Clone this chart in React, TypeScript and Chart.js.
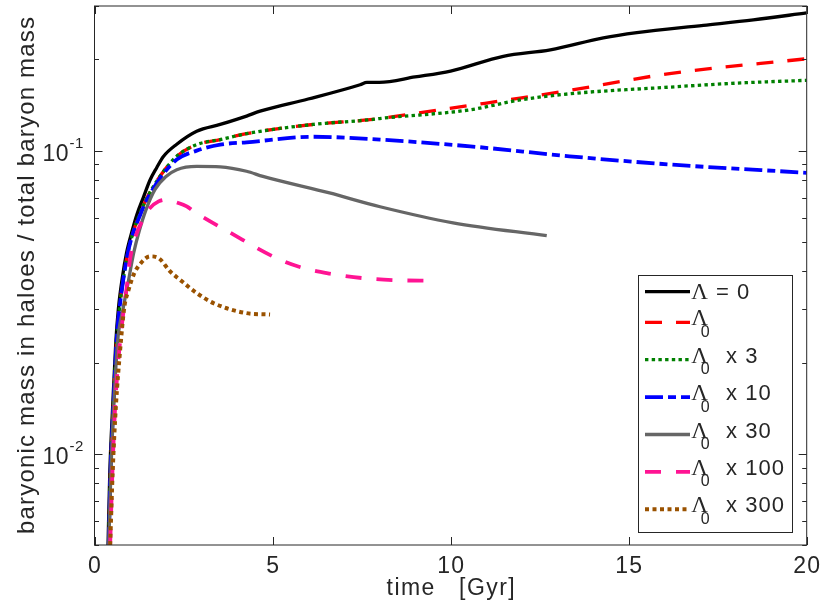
import React, { useEffect, useRef } from "react";
import { Chart, registerables } from "chart.js";

Chart.register(...registerables);

// time [Gyr] and baryonic mass fraction, one pair of arrays per curve
const tLambdaZero = [0.38, 0.43, 0.51, 0.6, 0.67, 0.78, 0.9, 1.05, 1.2, 1.37, 1.56, 1.75, 1.93, 2.31, 2.87, 3.53, 4.27, 4.65, 6.0, 7.46, 7.65, 8.0, 9.0, 10.0, 11.48, 12.8, 14.29, 15.23, 17.1, 18.5, 20];
const vLambdaZero = [0.005, 0.0087, 0.0143, 0.0235, 0.03, 0.038, 0.046, 0.054, 0.062, 0.07, 0.08, 0.088, 0.0955, 0.105, 0.1159, 0.122, 0.13, 0.135, 0.148, 0.165, 0.168, 0.168, 0.175, 0.183, 0.2047, 0.215, 0.2355, 0.245, 0.259, 0.27, 0.2847];

const tLambda0 = [0.4, 0.45, 0.53, 0.62, 0.7, 0.8, 0.92, 1.07, 1.25, 1.45, 1.84, 2.31, 2.87, 3.53, 4.27, 6.14, 7.74, 8.0, 10.55, 11.95, 13.34, 16.15, 20];
const vLambda0 = [0.005, 0.0087, 0.0143, 0.0235, 0.03, 0.037, 0.045, 0.053, 0.061, 0.069, 0.0823, 0.0958, 0.1047, 0.1087, 0.1138, 0.122, 0.1265, 0.1276, 0.141, 0.149, 0.158, 0.1795, 0.201];

const tLambda3 = [0.4, 0.45, 0.53, 0.62, 0.7, 0.8, 0.92, 1.07, 1.25, 1.45, 1.84, 2.31, 2.87, 3.53, 4.27, 6.14, 7.74, 8.0, 10.55, 11.95, 13.34, 16.15, 18.04, 20];
const vLambda3 = [0.005, 0.0087, 0.0143, 0.0235, 0.03, 0.037, 0.045, 0.053, 0.061, 0.069, 0.0823, 0.0958, 0.1047, 0.1087, 0.1138, 0.122, 0.1265, 0.1276, 0.1364, 0.147, 0.154, 0.162, 0.167, 0.1706];

const tLambda10 = [0.4, 0.45, 0.53, 0.62, 0.7, 0.8, 0.92, 1.07, 1.25, 1.45, 1.84, 2.31, 2.87, 3.53, 4.27, 6.15, 8.02, 10.55, 13.34, 16.15, 20];
const vLambda10 = [0.005, 0.0087, 0.0143, 0.0235, 0.03, 0.037, 0.045, 0.053, 0.06, 0.068, 0.081, 0.0934, 0.1, 0.1047, 0.1065, 0.1111, 0.1087, 0.1033, 0.0958, 0.09, 0.0845];

const tLambda30 = [0.4, 0.46, 0.54, 0.65, 0.8, 0.95, 1.1, 1.25, 1.45, 1.7, 2.0, 2.31, 2.87, 3.53, 4.27, 4.73, 6.6, 8.02, 10.07, 12.7];
const vLambda30 = [0.005, 0.0087, 0.0143, 0.0235, 0.03, 0.037, 0.046, 0.054, 0.064, 0.0745, 0.082, 0.0865, 0.0887, 0.0884, 0.0855, 0.0822, 0.0725, 0.0653, 0.0578, 0.0524];

const tLambda100 = [0.44, 0.5, 0.58, 0.68, 0.8, 0.9, 1.0, 1.15, 1.35, 1.55, 1.8, 2.03, 2.3, 2.59, 2.78, 3.8, 5.2, 5.96, 6.6, 7.5, 8.4, 9.5];
const vLambda100 = [0.005, 0.0085, 0.0143, 0.021, 0.0285, 0.035, 0.044, 0.052, 0.059, 0.0645, 0.068, 0.0689, 0.0675, 0.0655, 0.0631, 0.0537, 0.0437, 0.0407, 0.0393, 0.038, 0.0374, 0.0372];

const tLambda300 = [0.44, 0.51, 0.6, 0.72, 0.84, 0.95, 1.1, 1.3, 1.56, 1.8, 2.12, 2.4, 2.87, 3.34, 4.27, 4.93];
const vLambda300 = [0.005, 0.0087, 0.0143, 0.022, 0.0306, 0.0345, 0.039, 0.0425, 0.0448, 0.0442, 0.04, 0.0375, 0.0339, 0.0314, 0.0291, 0.0288];

const seriesNames = ["Λ = 0", "Λ0", "Λ0 x 3", "Λ0 x 10", "Λ0 x 30", "Λ0 x 100", "Λ0 x 300"];
const legendSub = ["", "0", "0", "0", "0", "0", "0"];
const legendRest = ["= 0", "", "x 3", "x 10", "x 30", "x 100", "x 300"];

const xTicks = [0, 5, 10, 15, 20];
const yMajorTicks = [0.01, 0.1];
const yMajorExp = ["-2", "-1"];
const yMinorTicks = [0.005, 0.006, 0.007, 0.008, 0.009, 0.02, 0.03, 0.04, 0.05, 0.06, 0.07, 0.08, 0.09, 0.2, 0.3];

const AXIS = "#262626";
const SANS = '"Liberation Sans", Arial, sans-serif';
const SERIF = '"Liberation Serif", "DejaVu Serif", serif';

const pts = (t: number[], v: number[]) => t.map((x, i) => ({ x, y: v[i] }));

// draw text centred on cx, spread out so it fills the given width
const fillFitted = (ctx: CanvasRenderingContext2D, text: string, cx: number, y: number, width: number) => {
  (ctx as any).letterSpacing = "0px";
  const w = ctx.measureText(text).width;
  const ls = Math.max(0, (width - w) / (text.length - 1));
  (ctx as any).letterSpacing = `${ls}px`;
  ctx.textAlign = "left";
  ctx.fillText(text, cx - (w + ls * (text.length - 1)) / 2, y);
  (ctx as any).letterSpacing = "0px";
};

const spaced = (ctx: CanvasRenderingContext2D, text: string, x: number, y: number, ls: number, align: string) => {
  (ctx as any).letterSpacing = `${ls}px`;
  const w = ctx.measureText(text).width - ls;
  ctx.textAlign = "left";
  const x0 = align === "center" ? x - w / 2 : align === "right" ? x - w : x;
  ctx.fillText(text, x0, y);
  (ctx as any).letterSpacing = "0px";
  return w;
};

const matlabAxes = {
  id: "matlabAxes",
  afterDatasetsDraw(chart: any) {
    const { ctx, chartArea: a, scales } = chart;
    const xs = scales.x;
    const ys = scales.y;
    const seg = (x1: number, y1: number, x2: number, y2: number) => {
      ctx.beginPath();
      ctx.moveTo(x1, y1);
      ctx.lineTo(x2, y2);
      ctx.stroke();
    };
    ctx.save();
    ctx.strokeStyle = AXIS;
    ctx.fillStyle = AXIS;
    ctx.lineWidth = 1;
    ctx.setLineDash([]);
    ctx.strokeRect(a.left, a.top, a.right - a.left, a.bottom - a.top);

    // inward ticks on all four sides
    xTicks.forEach((t) => {
      const px = Math.round(xs.getPixelForValue(t)) + 0.5;
      seg(px, a.bottom, px, a.bottom - 8);
      seg(px, a.top, px, a.top + 8);
    });
    yMajorTicks.forEach((v) => {
      const py = Math.round(ys.getPixelForValue(v)) + 0.5;
      seg(a.left, py, a.left + 8, py);
      seg(a.right, py, a.right - 8, py);
    });
    yMinorTicks.forEach((v) => {
      const py = Math.round(ys.getPixelForValue(v)) + 0.5;
      seg(a.left, py, a.left + 4.5, py);
      seg(a.right, py, a.right - 4.5, py);
    });

    // tick labels
    ctx.font = `23px ${SANS}`;
    ctx.textBaseline = "alphabetic";
    xTicks.forEach((t) => {
      spaced(ctx, String(t), xs.getPixelForValue(t), a.bottom + 27.5, 1.2, "center");
    });
    yMajorTicks.forEach((v, i) => {
      const py = ys.getPixelForValue(v);
      const x0 = a.left - 52;
      ctx.font = `23px ${SANS}`;
      const w = spaced(ctx, "10", x0, py + 10.5, 0.5, "left");
      ctx.font = `15px ${SANS}`;
      spaced(ctx, yMajorExp[i], x0 + w + 1, py - 2.5, 0.3, "left");
    });

    // axis titles
    ctx.font = `23px ${SANS}`;
    fillFitted(ctx, "time   [Gyr]", (a.left + a.right) / 2, a.bottom + 50, 128);
    ctx.save();
    ctx.translate(34, (a.top + a.bottom) / 2);
    ctx.rotate(-Math.PI / 2);
    ctx.font = `24px ${SANS}`;
    fillFitted(ctx, "baryonic mass in haloes / total baryon mass", 0, 0, 517);
    ctx.restore();

    // legend, anchored at the lower right corner
    const lw = 154.4;
    const lh = 256.7;
    const lx = a.right - 14 - lw;
    const ly = a.bottom - 13.3 - lh;
    ctx.fillStyle = "#ffffff";
    ctx.fillRect(lx, ly, lw, lh);
    ctx.strokeStyle = AXIS;
    ctx.lineWidth = 1;
    ctx.strokeRect(Math.round(lx) + 0.5, Math.round(ly) + 0.5, Math.round(lw), Math.round(lh));
    chart.data.datasets.forEach((ds: any, i: number) => {
      const rowY = i === 0 ? ly + 16.7 : ly + 47.3 + (i - 1) * 37.4;
      ctx.save();
      ctx.strokeStyle = ds.borderColor;
      ctx.lineWidth = ds.borderWidth;
      ctx.setLineDash(ds.borderDash || []);
      seg(lx + 6.7, rowY, lx + 51.7, rowY);
      ctx.restore();
      ctx.fillStyle = AXIS;
      ctx.textBaseline = "alphabetic";
      const base = i === 0 ? rowY + 7 : rowY + 3;
      ctx.font = `23px ${SERIF}`;
      ctx.textAlign = "left";
      ctx.fillText("Λ", lx + 53, base);
      if (legendSub[i]) {
        ctx.font = `16px ${SANS}`;
        ctx.fillText(legendSub[i], lx + 62.4, base + 11.5);
      }
      ctx.font = `22px ${SANS}`;
      spaced(ctx, legendRest[i], lx + (i === 0 ? 77.8 : 87.8), base, 1, "left");
    });
    ctx.restore();
  },
};

const App = () => {
  const chartRef = useRef<HTMLCanvasElement | null>(null);

  useEffect(() => {
    const ctx = chartRef.current?.getContext("2d");
    if (!ctx) return;

    const line = (label: string, data: any, color: string, width: number, dash: number[], order: number) => ({
      label,
      data,
      borderColor: color,
      borderWidth: width,
      borderDash: dash,
      pointRadius: 0,
      fill: false,
      cubicInterpolationMode: "monotone" as const,
      order,
    });

    const chartInstance = new Chart(ctx, {
      type: "line",
      data: {
        datasets: [
          line(seriesNames[0], pts(tLambdaZero, vLambdaZero), "#000000", 3.3, [], 6),
          line(seriesNames[1], pts(tLambda0, vLambda0), "#ff0000", 3.3, [17, 14], 5),
          line(seriesNames[2], pts(tLambda3, vLambda3), "#008000", 3.3, [3.4, 3.3], 4),
          line(seriesNames[3], pts(tLambda10, vLambda10), "#0000ff", 3.8, [18, 5, 8, 5], 3),
          line(seriesNames[4], pts(tLambda30, vLambda30), "#666666", 3.3, [], 2),
          line(seriesNames[5], pts(tLambda100, vLambda100), "#ff1493", 3.8, [16, 15], 1),
          line(seriesNames[6], pts(tLambda300, vLambda300), "#9a5200", 4, [4, 3.5], 0),
        ],
      },
      options: {
        animation: false,
        responsive: true,
        maintainAspectRatio: false,
        layout: { padding: { left: 94.5, right: 23.3, top: 6, bottom: 68 } },
        plugins: { legend: { display: false }, tooltip: { enabled: false } },
        scales: {
          x: { type: "linear", min: 0, max: 20, display: false },
          y: { type: "logarithmic", min: 0.005, max: 0.3, display: false },
        },
      },
      plugins: [matlabAxes],
    });

    return () => {
      chartInstance.destroy();
    };
  }, []);

  return (
    <div style={{ position: "fixed", left: 0, top: 0, width: 830, height: 613, background: "#fff" }}>
      <canvas ref={chartRef} />
    </div>
  );
};

export default App;
